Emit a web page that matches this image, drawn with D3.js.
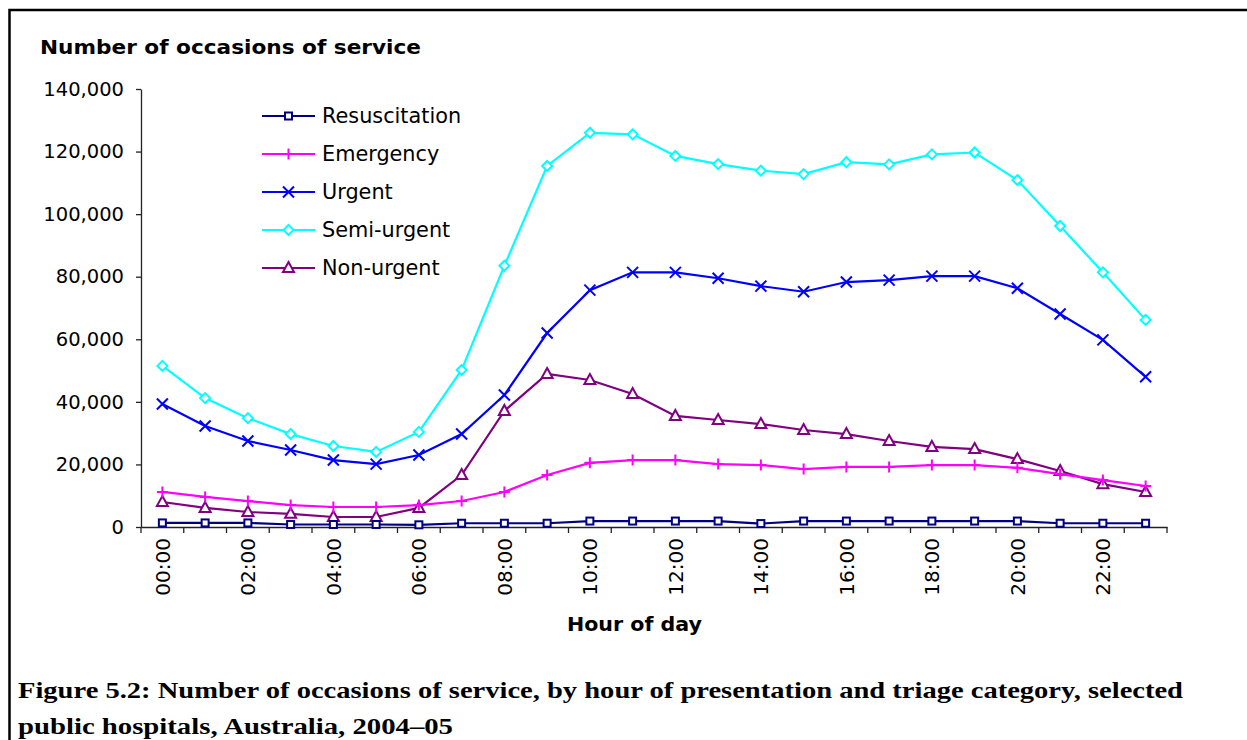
<!DOCTYPE html>
<html>
<head>
<meta charset="utf-8">
<script src="https://cdn.jsdelivr.net/npm/d3@7"></script>
<style>
  body { margin: 0; background: #fff; }
  svg { display: block; }
</style>
</head>
<body>
<svg id="chart"></svg>
<script>
/* Data */
var hours = ["00:00","01:00","02:00","03:00","04:00","05:00","06:00","07:00","08:00","09:00","10:00","11:00",
             "12:00","13:00","14:00","15:00","16:00","17:00","18:00","19:00","20:00","21:00","22:00","23:00"];

var resuscitation = [1300,1300,1300,800,800,800,700,1200,1200,1200,1900,1900,
                     1900,1900,1100,1900,1900,1900,1900,1900,1900,1200,1200,1200];
var emergency     = [11200,9600,8300,7000,6400,6400,7000,8300,11200,16600,20500,21400,
                     21400,20100,19800,18500,19200,19200,19800,19800,18900,16900,15000,13100];
var urgent        = [39300,32300,27500,24600,21400,20100,23000,29700,42200,62000,75700,81400,
                     81400,79500,77000,75200,78300,78900,80200,80200,76300,68100,59800,48000];
var semiUrgent    = [51500,41200,34800,29700,25900,24000,30400,50200,83500,115400,126000,125500,
                     118600,116000,113900,112800,116600,115900,119100,119700,110900,96200,81400,66200];
var nonUrgent     = [8000,6100,4800,4200,3200,3200,6100,16600,37100,48900,47000,42500,
                     35500,34200,32900,31000,29700,27500,25600,24900,21700,17900,13700,11200];

var seriesNames  = ["Resuscitation","Emergency","Urgent","Semi-urgent","Non-urgent"];
var seriesValues = [resuscitation, emergency, urgent, semiUrgent, nonUrgent];
var seriesColors = ["#000080","#ff00ff","#0000ff","#00ffff","#800080"];
var seriesMarkers = ["square","plus","cross","diamond","triangle"];

var yTicks = [0,20000,40000,60000,80000,100000,120000,140000];

/* Main svg */
var W = 1247, H = 740;
var svg = d3.select('#chart').attr('width', W).attr('height', H);

// frame (runs off the right and bottom edge)
svg.append('rect')
    .attr('x', 9.5).attr('y', 10)
    .attr('width', W + 20).attr('height', H + 20)
    .attr('fill', 'none').attr('stroke', '#000').attr('stroke-width', 2.5);

var plot = {left: 141, right: 1167, top: 89, bottom: 527};

var x = d3.scaleBand().domain(hours).range([plot.left, plot.right]).padding(0);
var y = d3.scaleLinear().domain([0, 140000]).range([plot.bottom, plot.top]);
var cx = h => x(h) + x.bandwidth() / 2;

var tickFont = "DejaVu Sans, sans-serif";

/* y axis */
var yAxis = svg.append('g')
    .attr('transform', `translate(${plot.left},0)`)
    .call(d3.axisLeft(y).tickValues(yTicks).tickFormat(d3.format(',')).tickSize(5).tickPadding(12).tickSizeOuter(0));
yAxis.selectAll('path, line').attr('stroke', '#222').attr('stroke-width', 1.3);
yAxis.selectAll('text')
    .attr('font-family', tickFont).attr('font-size', '19.5px').attr('fill', '#000');

/* x axis: labels every 2 hours, ticks at band edges */
var xAxis = svg.append('g')
    .attr('transform', `translate(0,${plot.bottom})`)
    .call(d3.axisBottom(x).tickSize(0).tickSizeOuter(0)
        .tickFormat((d, i) => i % 2 === 0 ? d : ''));
xAxis.select('path').attr('stroke', '#222').attr('stroke-width', 1.3);
xAxis.selectAll('text')
    .attr('transform', 'rotate(-90)')
    .attr('x', -11).attr('y', 0).attr('dy', '0.36em')
    .style('text-anchor', 'end')
    .attr('font-family', tickFont).attr('font-size', '20px').attr('fill', '#000');

var edges = hours.map(h => x(h)).concat([plot.right]);
xAxis.selectAll('line.edge')
    .data(edges)
    .enter()
    .append('line')
    .attr('class', 'edge')
    .attr('x1', d => d).attr('x2', d => d)
    .attr('y1', 0).attr('y2', 6)
    .attr('stroke', '#222').attr('stroke-width', 1.3);

/* titles */
svg.append('text')
    .text('Number of occasions of service')
    .attr('x', 40).attr('y', 54)
    .attr('font-family', tickFont).attr('font-weight', 'bold').attr('font-size', '19px')
    .attr('textLength', 381).attr('lengthAdjust', 'spacingAndGlyphs');

svg.append('text')
    .text('Hour of day')
    .attr('x', 567).attr('y', 631)
    .attr('font-family', tickFont).attr('font-weight', 'bold').attr('font-size', '19px')
    .attr('textLength', 135).attr('lengthAdjust', 'spacingAndGlyphs');

svg.append('text')
    .text('Figure 5.2: Number of occasions of service, by hour of presentation and triage category, selected')
    .attr('x', 18).attr('y', 698)
    .attr('font-family', 'Liberation Serif, serif').attr('font-weight', 'bold').attr('font-size', '24px')
    .attr('textLength', 1165).attr('lengthAdjust', 'spacingAndGlyphs');

svg.append('text')
    .text('public hospitals, Australia, 2004\u201305')
    .attr('x', 18).attr('y', 734)
    .attr('font-family', 'Liberation Serif, serif').attr('font-weight', 'bold').attr('font-size', '24px')
    .attr('textLength', 435).attr('lengthAdjust', 'spacingAndGlyphs');

/* markers */
function drawMarker(g, type, color, px, py){
    if(type === 'square'){
        g.append('rect').attr('x', px - 3.5).attr('y', py - 3.5).attr('width', 7).attr('height', 7)
            .attr('fill', '#fff').attr('stroke', color).attr('stroke-width', 2);
    }
    if(type === 'plus'){
        g.append('path').attr('d', `M${px-5.5},${py}H${px+5.5}M${px},${py-5.5}V${py+5.5}`)
            .attr('stroke', color).attr('stroke-width', 2);
    }
    if(type === 'cross'){
        g.append('path').attr('d', `M${px-5.5},${py-5.5}L${px+5.5},${py+5.5}M${px-5.5},${py+5.5}L${px+5.5},${py-5.5}`)
            .attr('stroke', color).attr('stroke-width', 2);
    }
    if(type === 'diamond'){
        g.append('path').attr('d', `M${px},${py-5}L${px+5},${py}L${px},${py+5}L${px-5},${py}Z`)
            .attr('fill', '#fff').attr('stroke', color).attr('stroke-width', 2);
    }
    if(type === 'triangle'){
        g.append('path').attr('d', `M${px},${py-6}L${px+5.5},${py+4}L${px-5.5},${py+4}Z`)
            .attr('fill', '#fff').attr('stroke', color).attr('stroke-width', 2);
    }
}

/* series lines (draw Resuscitation last so it sits on top near the axis) */
var line = d3.line().x((d, i) => cx(hours[i])).y(d => y(d));
var drawOrder = [3, 2, 4, 1, 0];

drawOrder.forEach(function(s){
    var g = svg.append('g').attr('class', 'series');
    g.append('path')
        .datum(seriesValues[s])
        .attr('d', line)
        .attr('fill', 'none')
        .attr('stroke', seriesColors[s])
        .attr('stroke-width', 2.2);
    seriesValues[s].forEach(function(v, i){
        drawMarker(g, seriesMarkers[s], seriesColors[s], cx(hours[i]), y(v));
    });
});

/* legend */
var legend = svg.append('g').attr('class', 'legend');
seriesNames.forEach(function(name, i){
    var ly = 116 + i * 38;
    legend.append('line')
        .attr('x1', 262).attr('x2', 315).attr('y1', ly).attr('y2', ly)
        .attr('stroke', seriesColors[i]).attr('stroke-width', 2.2);
    drawMarker(legend, seriesMarkers[i], seriesColors[i], 288.5, ly);
    legend.append('text')
        .text(name)
        .attr('x', 322).attr('y', ly).attr('dy', '0.36em')
        .attr('font-family', tickFont).attr('font-size', '20.8px').attr('fill', '#000');
});
</script>
</body>
</html>
